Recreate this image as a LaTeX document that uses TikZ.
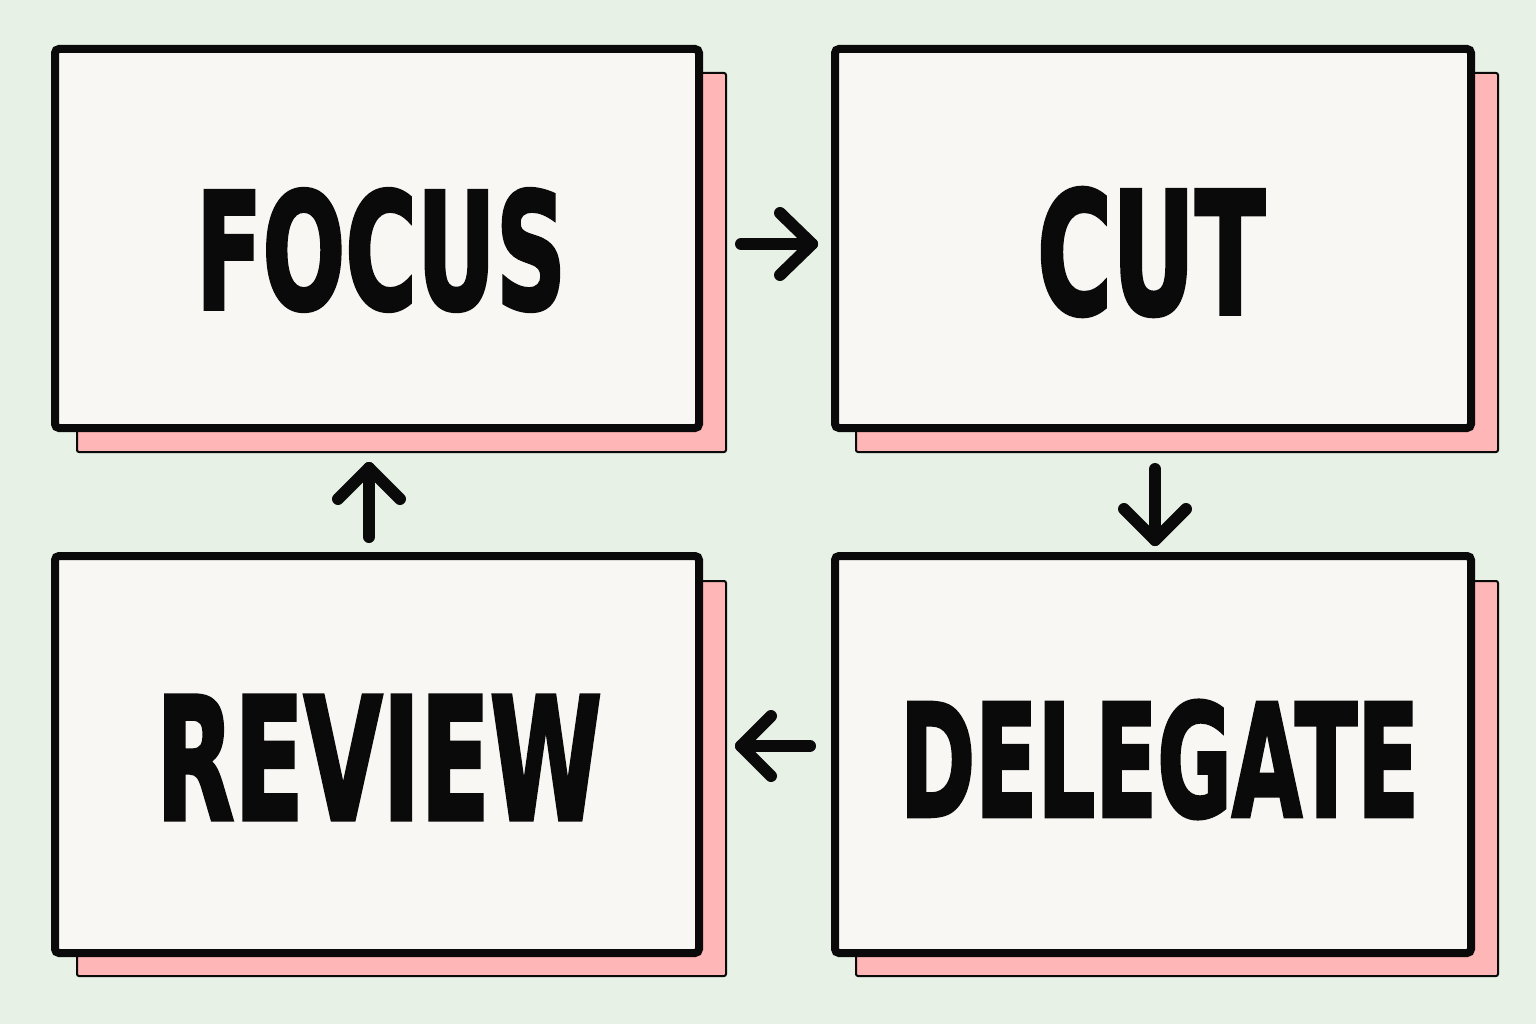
\documentclass[tikz,border=0pt]{standalone}
\usepackage{fontspec}
\setmainfont{Liberation Sans}
\newfontfamily\heavy{DejaVu Sans}[BoldFeatures={FakeBold=2.5}]
\usepackage{graphicx}
\definecolor{bg}{HTML}{E7F1E6}
\definecolor{card}{HTML}{F8F7F3}
\definecolor{pinkish}{HTML}{FFB6B6}
\definecolor{ink}{HTML}{0A0A0A}
\begin{document}
\begin{tikzpicture}[x=1pt,y=-1pt,
  card/.style={draw=ink,fill=card,line width=8pt,rounded corners=4pt,minimum width=644pt,minimum height=379pt,inner sep=0pt},
  cardshadow/.style={draw=ink,fill=pinkish,line width=2pt,rounded corners=2pt,minimum width=649pt,minimum height=379pt,inner sep=0pt},
  word/.style={inner sep=0pt,text=ink,font=\heavy\bfseries},
  flow/.style={draw=ink,line width=12pt,line cap=round,line join=round}]
\fill[bg] (0,0) rectangle (1536,1024);
\useasboundingbox (0,0) rectangle (1536,1024);
% shadows
\node[cardshadow] (s1) at (401.5,262.5) {};
\node[cardshadow,minimum width=642pt] (s2) at (1177,262.5) {};
\node[cardshadow,minimum width=642pt,minimum height=395pt] (s3) at (1177,778.5) {};
\node[cardshadow,minimum height=395pt] (s4) at (401.5,778.5) {};
% cards
\node[card] (focus) at (377,238.5) {};
\node[card,minimum width=636pt] (cut) at (1153,238.5) {};
\node[card,minimum width=636pt,minimum height=397pt] (delegate) at (1153,754.5) {};
\node[card,minimum height=397pt] (review) at (377,754.5) {};
% words
\node[word] (tfocus) at (381,250) {\resizebox{370pt}{120pt}{FOCUS}};
\node[word] (tcut) at (1151,252) {\resizebox{228pt}{126pt}{CUT}};
\node[word] (treview) at (379,757.5) {\resizebox{446pt}{124pt}{REVIEW}};
\node[word] (tdelegate) at (1159.5,759.5) {\resizebox{519pt}{116pt}{DELEGATE}};
% arrow coordinates
\coordinate (a1s) at (741,244);
\coordinate (a1e) at (812,244);
\coordinate (a2s) at (1155,469);
\coordinate (a2e) at (1155,540);
\coordinate (a3s) at (810,746);
\coordinate (a3e) at (741,746);
\coordinate (a4s) at (369,537);
\coordinate (a4e) at (369,468);
% arrows
\draw[flow] (a1s) -- (a1e);
\draw[flow] ([shift={(-32,-31)}]a1e) -- (a1e) -- ([shift={(-32,31)}]a1e);
\draw[flow] (a2s) -- (a2e);
\draw[flow] ([shift={(-31,-31)}]a2e) -- (a2e) -- ([shift={(31,-31)}]a2e);
\draw[flow] (a3s) -- (a3e);
\draw[flow] ([shift={(30,-30)}]a3e) -- (a3e) -- ([shift={(30,30)}]a3e);
\draw[flow] (a4s) -- (a4e);
\draw[flow] ([shift={(-31,31)}]a4e) -- (a4e) -- ([shift={(31,31)}]a4e);
\end{tikzpicture}
\end{document}
